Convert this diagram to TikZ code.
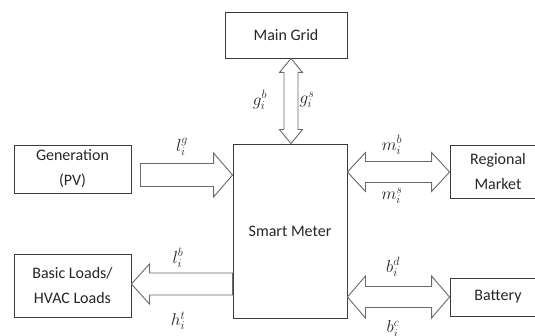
\documentclass[tikz,border=0pt]{standalone}
\usepackage{fontspec}
\setmainfont{Carlito}
\usetikzlibrary{calc}
\definecolor{boxline}{HTML}{3A3A3A}
\definecolor{arrline}{HTML}{6A6A6A}
\definecolor{txt}{HTML}{262626}
\begin{document}
\begin{tikzpicture}[x=1pt,y=1pt,
  box/.style={draw=boxline,line width=0.9pt,fill=white,inner sep=0pt,align=center,
    text=txt,font=\fontsize{16}{25}\selectfont},
  blk/.style={draw=arrline,line width=0.9pt,fill=white,line join=miter},
  lbl/.style={inner sep=0pt,text=txt,font=\fontsize{18}{20}\selectfont}]
\useasboundingbox (0,0) rectangle (535,335);
\clip (0,0) rectangle (535,335);
% boxes
\node[box,minimum width=122pt,minimum height=46pt] (grid) at (286,300) {Main Grid};
\node[box,minimum width=114pt,minimum height=174pt] (sm) at (290,104) {Smart Meter};
\node[box,minimum width=117pt,minimum height=48pt] (gen) at (72.5,166) {Generation\\(PV)};
\node[box,minimum width=117pt,minimum height=63pt] (load) at (72.5,49.5) {Basic Loads/\\HVAC Loads};
\node[box,minimum width=96pt,minimum height=53pt] (reg) at (498,163.5) {Regional\\Market};
\node[box,minimum width=96pt,minimum height=38pt] (bat) at (498,38) {Battery};
% vertical double arrow grid <-> smart meter
\draw[blk] let \p1=(grid.south), \p2=(sm.north) in
  (291pt,\y1) -- (302.5pt,\y1-14pt) -- (298pt,\y1-14pt) -- (298pt,\y2+14pt) -- (302.5pt,\y2+14pt)
  -- (291pt,\y2) -- (279.5pt,\y2+14pt) -- (284pt,\y2+14pt) -- (284pt,\y1-14pt) -- (279.5pt,\y1-14pt) -- cycle;
% generation -> smart meter
\draw[blk] let \p1=(gen.east), \p2=(sm.west) in
  (\x1+9pt,171.5pt) -- (\x2-19pt,171.5pt) -- (\x2-19pt,182pt) -- (\x2,160pt)
  -- (\x2-19pt,138pt) -- (\x2-19pt,148.5pt) -- (\x1+9pt,148.5pt) -- cycle;
% smart meter <-> regional market
\draw[blk] let \p1=(sm.east), \p2=(reg.west) in
  (\x1,163pt) -- (\x1+18pt,182.5pt) -- (\x1+18pt,173.5pt) -- (\x2-18pt,173.5pt) -- (\x2-18pt,182.5pt)
  -- (\x2,163pt) -- (\x2-18pt,143.5pt) -- (\x2-18pt,152.5pt) -- (\x1+18pt,152.5pt) -- (\x1+18pt,143.5pt) -- cycle;
% smart meter -> loads
\draw[blk] let \p1=(load.east), \p2=(sm.west) in
  (\x2,62pt) -- (\x1+18pt,62pt) -- (\x1+18pt,71pt) -- (\x1,51pt)
  -- (\x1+18pt,31pt) -- (\x1+18pt,40pt) -- (\x2,40pt) -- cycle;
% smart meter <-> battery
\draw[blk] let \p1=(sm.east), \p2=(bat.west) in
  (\x1,38pt) -- (\x1+18pt,59pt) -- (\x1+18pt,48.5pt) -- (\x2-18pt,48.5pt) -- (\x2-18pt,59pt)
  -- (\x2,38pt) -- (\x2-18pt,17pt) -- (\x2-18pt,27.5pt) -- (\x1+18pt,27.5pt) -- (\x1+18pt,17pt) -- cycle;
% labels
\node[lbl] (gb) at (260,235) {$g_i^b$};
\node[lbl] (gs) at (307,235) {$g_i^s$};
\node[lbl] (lg) at (182,188) {$l_i^g$};
\node[lbl] (mb) at (392,190) {$m_i^b$};
\node[lbl] (ms) at (392,139) {$m_i^s$};
\node[lbl] (lb) at (178,77) {$l_i^b$};
\node[lbl] (ht) at (178,14) {$h_i^t$};
\node[lbl] (bd) at (393,68) {$b_i^d$};
\node[lbl] (bc) at (393,6) {$b_i^c$};
\end{tikzpicture}
\end{document}
